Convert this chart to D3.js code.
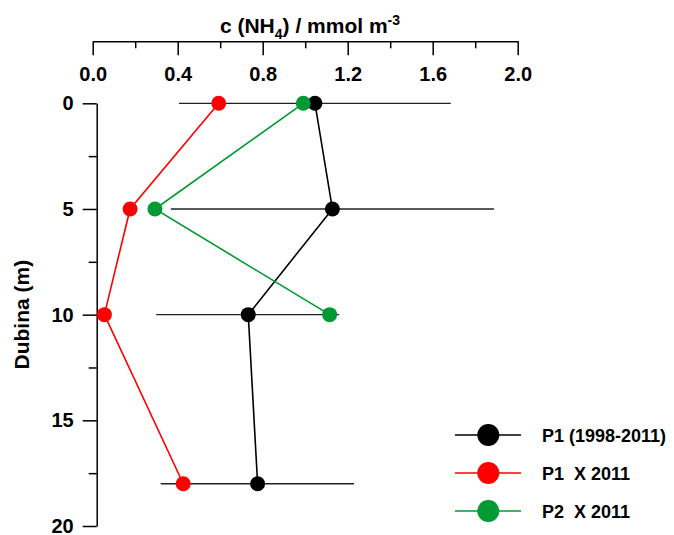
<!DOCTYPE html>
<html>
<head>
<meta charset="utf-8">
<script src="https://cdn.jsdelivr.net/npm/d3@7"></script>
<style>
  body { margin: 0; background: #fff; }
  svg text { font-family: Arial, "Liberation Sans", sans-serif; font-weight: bold; fill: #000; white-space: pre; }
</style>
</head>
<body>
<script>
// depths in m
const depthP1 = [0, 5, 10, 18];
const depthP2 = [0, 5, 10];

// P1 1998-2011 mean and range
const p1Mean = [1.046, 1.128, 0.732, 0.776];
const p1Min = [0.406, 0.368, 0.299, 0.32];
const p1Max = [1.685, 1.888, 1.16, 1.23];

// single campaigns 2011
const p1X2011 = [0.593, 0.176, 0.055, 0.426];
const p2X2011 = [0.991, 0.293, 1.115];

const xMajor = [0, 0.4, 0.8, 1.2, 1.6, 2.0];
const xMinor = [0.2, 0.6, 1.0, 1.4, 1.8];
const yMajor = [0, 5, 10, 15, 20];
const yMinor = [2.5, 7.5, 12.5, 17.5];

const legendLabels = ['P1 (1998-2011)', 'P1  X 2011', 'P2  X 2011'];

const width = 674, height = 535;

const x = d3.scaleLinear().domain([0, 2]).range([92.7, 517.7]);
const y = d3.scaleLinear().domain([0, 20]).range([103.3, 526]);

const svg = d3.select('body').append('svg')
  .attr('width', width)
  .attr('height', height);

// top axis (ticks point down, labels under the line)
const axisY = 41.3;
svg.append('g')
  .attr('transform', `translate(0,${axisY})`)
  .call(d3.axisBottom(x).tickValues(xMinor).tickSize(7).tickFormat(''))
  .call(g => g.select('.domain').remove());
svg.append('g')
  .attr('transform', `translate(0,${axisY})`)
  .call(d3.axisBottom(x).tickValues(xMajor).tickSize(14).tickSizeOuter(0)
    .tickPadding(12).tickFormat(d3.format('.1f')))
  .call(g => g.selectAll('text').style('font-size', '20px'));

// left axis
const axisX = 96.7;
svg.append('g')
  .attr('transform', `translate(${axisX},0)`)
  .call(d3.axisLeft(y).tickValues(yMinor).tickSize(8).tickFormat(''))
  .call(g => g.select('.domain').remove());
svg.append('g')
  .attr('transform', `translate(${axisX},0)`)
  .call(d3.axisLeft(y).tickValues(yMajor).tickSize(14).tickSizeOuter(0).tickPadding(9))
  .call(g => g.selectAll('text').style('font-size', '20px'));

svg.selectAll('.domain, .tick line')
  .attr('stroke', '#000')
  .attr('stroke-width', 1.5);

// axis titles
const title = svg.append('text')
  .attr('x', 310)
  .attr('y', 32.5)
  .attr('text-anchor', 'middle')
  .style('font-size', '21px');
title.append('tspan').text('c (NH');
title.append('tspan').attr('dy', 6).style('font-size', '14px').text('4');
title.append('tspan').attr('dy', -6).text(') / mmol m');
title.append('tspan').attr('dy', -8).style('font-size', '14px').text('-3');

svg.append('text')
  .attr('transform', `translate(29,${(y(0) + y(20)) / 2}) rotate(-90)`)
  .attr('text-anchor', 'middle')
  .style('font-size', '21px')
  .text('Dubina (m)');

// error bars
svg.append('g')
  .selectAll('line')
  .data(depthP1)
  .join('line')
  .attr('x1', (d, i) => x(p1Min[i]))
  .attr('x2', (d, i) => x(p1Max[i]))
  .attr('y1', d => y(d))
  .attr('y2', d => y(d))
  .attr('stroke', '#222')
  .attr('stroke-width', 1.3);

const series = [
  { depths: depthP1, values: p1Mean, color: '#000000' },
  { depths: depthP1, values: p1X2011, color: '#ff0000' },
  { depths: depthP2, values: p2X2011, color: '#009933' }
];

const line = d3.line()
  .x(d => x(d[1]))
  .y(d => y(d[0]));

series.forEach(s => {
  const pts = s.depths.map((d, i) => [d, s.values[i]]);
  svg.append('path')
    .datum(pts)
    .attr('fill', 'none')
    .attr('stroke', s.color)
    .attr('stroke-width', 1.6)
    .attr('d', line);
  svg.append('g')
    .selectAll('circle')
    .data(pts)
    .join('circle')
    .attr('cx', d => x(d[1]))
    .attr('cy', d => y(d[0]))
    .attr('r', 7.5)
    .attr('fill', s.color);
});

// legend
const legend = svg.append('g');
series.forEach((s, i) => {
  const ly = 435 + i * 38;
  legend.append('line')
    .attr('x1', 455).attr('x2', 521)
    .attr('y1', ly).attr('y2', ly)
    .attr('stroke', s.color)
    .attr('stroke-width', 1.6);
  legend.append('circle')
    .attr('cx', 488.3).attr('cy', ly)
    .attr('r', 11)
    .attr('fill', s.color);
  legend.append('text')
    .attr('x', 542)
    .attr('y', ly + 7)
    .style('font-size', '18px')
    .text(legendLabels[i]);
});
</script>
</body>
</html>
